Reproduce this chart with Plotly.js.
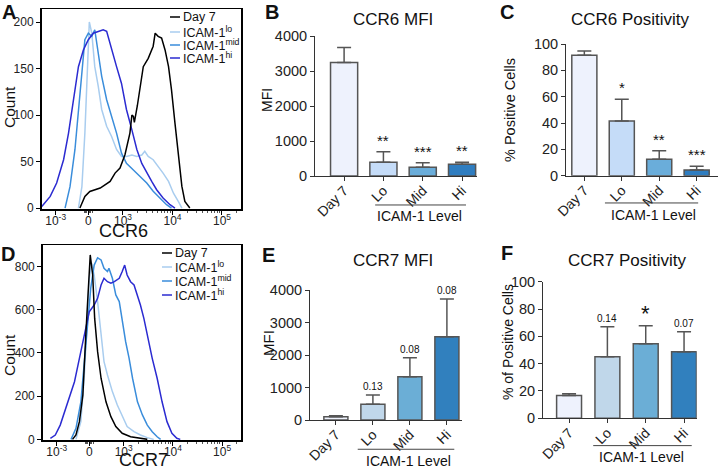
<!DOCTYPE html>
<html>
<head>
<meta charset="utf-8">
<script src="https://cdn.plot.ly/plotly-3.0.1.min.js"></script>
<style>
  html, body { margin: 0; padding: 0; background: #fff; }
  #plot { width: 720px; height: 469px; }
</style>
</head>
<body>
<div id="plot"></div>
<script>
// ---- data -------------------------------------------------------------
// histogram x values are in display decades (3 = 10^3, 4 = 10^4, ...)
const ccr6Day7X = [2.13, 2.23, 2.33, 2.54, 2.74, 2.84, 2.94, 3.04, 3.14, 3.18, 3.21, 3.23, 3.29, 3.34, 3.41, 3.51, 3.61, 3.65, 3.71, 3.78, 3.85, 3.92, 3.98, 4.05, 4.12, 4.19, 4.25, 4.35];
const ccr6Day7Y = [0, 12.5, 17.9, 21.5, 28.7, 37.6, 43, 57.3, 80.6, 100, 98.6, 92, 110, 127, 152, 161, 174, 188, 184.6, 182.8, 170, 152, 127, 91.4, 55.5, 23.3, 7.2, 0];
const ccr6LoX = [2.10, 2.17, 2.23, 2.28, 2.32, 2.37, 2.43, 2.50, 2.57, 2.67, 2.77, 2.87, 2.97, 3.07, 3.18, 3.28, 3.38, 3.44, 3.51, 3.61, 3.71, 3.81, 3.92, 4.02, 4.12, 4.19];
const ccr6LoY = [0, 23, 80.6, 152, 200, 188, 152, 131, 106, 88, 77, 63, 55.5, 55.5, 57, 55.5, 57, 61, 55.5, 52, 45, 37.6, 28.7, 16, 7, 0];
const ccr6MidX = [1.83, 1.93, 2.03, 2.10, 2.17, 2.23, 2.30, 2.37, 2.43, 2.50, 2.57, 2.67, 2.77, 2.87, 2.97, 3.07, 3.21, 3.34, 3.48, 3.61, 3.75, 3.88, 3.98];
const ccr6MidY = [0, 23, 63, 106, 152, 181, 188, 184.6, 191.7, 166.7, 141.6, 116.5, 98.6, 80.6, 59, 48, 41, 34, 27, 18, 10.8, 3.6, 0];
const ccr6HiX = [1.36, 1.53, 1.66, 1.80, 1.90, 2.00, 2.10, 2.20, 2.30, 2.40, 2.50, 2.60, 2.67, 2.77, 2.87, 2.97, 3.07, 3.18, 3.28, 3.38, 3.48, 3.58, 3.68, 3.81, 3.95, 4.05];
const ccr6HiY = [1.8, 12.5, 27, 52, 80.6, 116.5, 152, 170, 181, 188, 190, 191.7, 190, 170, 152, 134, 106, 84, 63, 48, 37.6, 28.7, 19.7, 10.8, 3.6, 0];

const ccr7Day7X = [1.96, 2.03, 2.10, 2.17, 2.23, 2.28, 2.32, 2.37, 2.41, 2.47, 2.54, 2.64, 2.74, 2.84, 2.97, 3.14, 3.34, 3.48];
const ccr7Day7Y = [0, 20, 82, 205, 483, 715, 854, 761, 560, 406, 283, 174, 105, 59, 28, 12, 5, 0];
const ccr7LoX = [2.03, 2.13, 2.20, 2.25, 2.30, 2.35, 2.40, 2.47, 2.54, 2.60, 2.67, 2.77, 2.87, 2.97, 3.07, 3.21, 3.34, 3.48, 3.61];
const ccr7LoY = [0, 82, 298, 560, 746, 815, 761, 638, 483, 360, 298, 221, 159, 105, 59, 35.5, 20, 8, 0];
const ccr7MidX = [1.93, 2.03, 2.13, 2.20, 2.27, 2.33, 2.40, 2.47, 2.54, 2.60, 2.67, 2.70, 2.77, 2.84, 2.91, 2.97, 3.04, 3.11, 3.18, 3.28, 3.38, 3.48, 3.58, 3.68, 3.75];
const ccr7MidY = [0, 51, 174, 360, 560, 699, 807, 841, 831, 792, 777, 792, 746, 669, 638, 545, 452, 375, 283, 174, 113, 66, 35.5, 12, 0];
const ccr7HiX = [1.51, 1.61, 1.71, 1.80, 1.90, 2.00, 2.10, 2.17, 2.23, 2.30, 2.40, 2.47, 2.54, 2.60, 2.67, 2.74, 2.81, 2.91, 2.97, 3.02, 3.07, 3.14, 3.21, 3.28, 3.34, 3.41, 3.48, 3.58, 3.68, 3.78, 3.88, 3.98, 4.08, 4.15];
const ccr7HiY = [5, 20, 66, 128, 190, 267, 375, 452, 530, 591, 622, 653, 715, 746, 730, 723, 730, 746, 777, 807, 761, 730, 715, 669, 622, 560, 483, 375, 283, 174, 82, 28, 5, 0];

const histTickVals = [1.64, 2.30, 3, 4, 5];
const histTickText = ['10<sup>-3</sup>', '0', '10<sup>3</sup>', '10<sup>4</sup>', '10<sup>5</sup>'];

const groups = ['Day 7', 'Lo', 'Mid', 'Hi'];
const ccr6Mfi = [3240, 390, 250, 335];
const ccr6MfiErr = [430, 300, 130, 55];
const ccr6MfiSig = ['', '**', '***', '**'];
const ccr6Pos = [91.4, 41.5, 12.4, 4.3];
const ccr6PosErr = [3.3, 16.5, 6.6, 2.8];
const ccr6PosSig = ['', '*', '**', '***'];
const ccr7Mfi = [103, 482, 1333, 2564];
const ccr7MfiErr = [30, 287, 585, 1159];
const ccr7MfiP = ['', '0.13', '0.08', '0.08'];
const ccr7Pos = [16.6, 45.1, 54.6, 48.8];
const ccr7PosErr = [1.4, 21.9, 13.2, 14.6];
const ccr7PosP = ['', '0.14', '*', '0.07'];

// ---- styling ----------------------------------------------------------
const W = 720, H = 469;
const fx = p => p / W;
const fy = p => (H - p) / H;
const FONT = 'Liberation Sans, Arial, sans-serif';
const colDay7 = '#000000', colLo = '#a9cdef', colMid = '#3a8ddb', colHi = '#2b2bd1';
const barColsTop = ['#eef2fd', '#c5dcf8', '#6aadda', '#2f7dc0'];
const barColsBottom = ['#eef2fd', '#c0d7ea', '#6baed6', '#3180be'];

function histLine(x, y, color, ax) {
  return { type: 'scatter', mode: 'lines', x: x, y: y, xaxis: 'x' + ax, yaxis: 'y' + ax,
    line: { color: color, width: 1.5 }, hoverinfo: 'skip' };
}

function bars(y, err, colors, width, ax) {
  return { type: 'bar', x: groups, y: y, width: width, xaxis: 'x' + ax, yaxis: 'y' + ax,
    marker: { color: colors, line: { color: '#555', width: 1.5 } },
    error_y: { type: 'data', symmetric: false, array: err, arrayminus: err.map(() => 0),
      color: '#555', thickness: 1.5, width: 7 } };
}

const data = [
  histLine(ccr6LoX, ccr6LoY, colLo, ''),
  histLine(ccr6MidX, ccr6MidY, colMid, ''),
  histLine(ccr6HiX, ccr6HiY, colHi, ''),
  histLine(ccr6Day7X, ccr6Day7Y, colDay7, ''),
  histLine(ccr7LoX, ccr7LoY, colLo, '4'),
  histLine(ccr7MidX, ccr7MidY, colMid, '4'),
  histLine(ccr7HiX, ccr7HiY, colHi, '4'),
  histLine(ccr7Day7X, ccr7Day7Y, colDay7, '4'),
  bars(ccr6Mfi, ccr6MfiErr, barColsTop, 0.69, '2'),
  bars(ccr6Pos, ccr6PosErr, barColsTop, 0.67, '3'),
  bars(ccr7Mfi, ccr7MfiErr, barColsBottom, 0.65, '5'),
  bars(ccr7Pos, ccr7PosErr, barColsBottom, 0.65, '6')
];

// log-style minor ticks on the histogram x axes
const minorTicks = [];
for (let d = 3; d < 5.4; d++) {
  for (let k = 2; k <= 9; k++) minorTicks.push(d + Math.log10(k));
}
minorTicks.push(2.22, 2.25, 2.27, 2.33, 2.35, 2.38);

function histXAxis(domain, anchor) {
  return { domain: domain, anchor: anchor, range: [1.354, 5.384], showline: true, mirror: true,
    linecolor: '#000', linewidth: 1.5, ticks: 'outside', ticklen: 4, tickcolor: '#000',
    tickmode: 'array', tickvals: histTickVals, ticktext: histTickText, ticklabelstandoff: -4,
    tickfont: { size: 12, color: '#222' }, showgrid: false, zeroline: false,
    minor: { tickmode: 'array', tickvals: minorTicks, ticks: 'outside', ticklen: 2, tickcolor: '#555' } };
}
function histYAxis(domain, anchor, range, dtick) {
  return { domain: domain, anchor: anchor, range: range, showline: true, mirror: true,
    linecolor: '#000', linewidth: 1.5, ticks: 'outside', ticklen: 4, tickcolor: '#000',
    dtick: dtick, tick0: 0, tickfont: { size: 12, color: '#222' }, showgrid: false, zeroline: false };
}
function barXAxis(domain, anchor, range) {
  return { domain: domain, anchor: anchor, range: range, type: 'category', showline: true, linecolor: '#333',
    linewidth: 1, ticks: 'outside', ticklen: 4, tickcolor: '#333', tickangle: -45,
    ticklabelstandoff: -4,
    tickfont: { size: 14, color: '#222' }, showgrid: false, zeroline: false };
}
function barYAxis(domain, anchor, range, dtick) {
  return { domain: domain, anchor: anchor, range: range, showline: true, linecolor: '#333', linewidth: 1,
    ticks: 'outside', ticklen: 4, tickcolor: '#333', dtick: dtick, tick0: 0,
    tickfont: { size: 14.5, color: '#222' }, showgrid: false, zeroline: false };
}

const layout = {
  width: W, height: H, margin: { l: 0, r: 0, t: 0, b: 0 },
  paper_bgcolor: '#fff', plot_bgcolor: '#fff', showlegend: false,
  font: { family: FONT, color: '#111' },
  xaxis: histXAxis([fx(41.5), fx(241)], 'y'),
  yaxis: histYAxis([fy(209), fy(9)], 'x', [-1, 214], 50),
  xaxis4: histXAxis([fx(42.7), fx(241)], 'y4'),
  yaxis4: histYAxis([fy(440), fy(245)], 'x4', [-3, 900], 200),
  xaxis2: barXAxis([fx(315), fx(477)], 'y2', [-0.74, 3.38]),
  yaxis2: barYAxis([fy(176), fy(36)], 'x2', [0, 4000], 1000),
  xaxis3: barXAxis([fx(566), fx(718)], 'y3', [-0.49, 3.57]),
  yaxis3: barYAxis([fy(175.7), fy(44)], 'x3', [0, 100], 20),
  xaxis5: barXAxis([fx(310), fx(461.7)], 'y5', [-0.70, 3.40]),
  yaxis5: barYAxis([fy(420), fy(290)], 'x5', [0, 4000], 1000),
  xaxis6: barXAxis([fx(543), fx(696.7)], 'y6', [-0.68, 3.33]),
  yaxis6: barYAxis([fy(418.3), fy(281.7)], 'x6', [0, 100], 20),
  shapes: [],
  annotations: []
};

function note(text, x, y, size, extra) {
  layout.annotations.push(Object.assign({ text: text, x: fx(x), y: fy(y), xref: 'paper', yref: 'paper',
    xanchor: 'center', yanchor: 'middle', showarrow: false, font: { size: size, color: '#111' } }, extra || {}));
}

// panel letters
note('<b>A</b>', 9, 12, 20);
note('<b>B</b>', 272, 12, 20);
note('<b>C</b>', 507, 12, 20);
note('<b>D</b>', 8, 254, 20);
note('<b>E</b>', 268, 255, 20);
note('<b>F</b>', 507, 253, 20);

// titles
note('CCR6 MFI', 393, 19, 17);
note('CCR6 Positivity', 630, 19, 17);
note('CCR7 MFI', 393, 260, 17);
note('CCR7 Positivity', 627, 260, 17);

// axis titles
note('Count', 10, 107, 15.5, { textangle: -90 });
note('CCR6', 123, 231, 18);
note('Count', 9, 355, 15.5, { textangle: -90 });
note('CCR7', 143, 460, 18);
note('MFI', 267, 100, 14, { textangle: -90 });
note('% Positive Cells', 510, 110, 14.5, { textangle: -90 });
note('MFI', 268, 343, 15, { textangle: -90 });
note('% of Positive Cells', 508, 342, 14, { textangle: -90 });

// histogram legends
function histLegend(lineX0, lineX1, textX, rows) {
  const labels = ['Day 7', 'ICAM-1<sup>lo</sup>', 'ICAM-1<sup>mid</sup>', 'ICAM-1<sup>hi</sup>'];
  const cols = [colDay7, colLo, colMid, colHi];
  labels.forEach((lab, i) => {
    layout.shapes.push({ type: 'line', xref: 'paper', yref: 'paper', x0: fx(lineX0), x1: fx(lineX1),
      y0: fy(rows[i]), y1: fy(rows[i]), line: { color: cols[i], width: 1.5 } });
    note(lab, textX, rows[i], 12.5, { xanchor: 'left', yanchor: 'middle' });
  });
}
histLegend(170, 180, 181, [17, 32, 45, 58]);
histLegend(162, 172, 173, [253, 267, 281, 295]);

// significance / p-value labels above error bars
function sigLabels(ax, vals, errs, labels, size) {
  labels.forEach((t, i) => {
    if (!t) return;
    const big = t === '*' && size < 12;
    layout.annotations.push({ text: t, x: groups[i], y: vals[i] + errs[i], xref: 'x' + ax, yref: 'y' + ax,
      xanchor: 'center', yanchor: 'bottom', yshift: big ? -2 : 1, showarrow: false,
      font: { size: big ? 22 : size, color: '#111' } });
  });
}
sigLabels('2', ccr6Mfi, ccr6MfiErr, ccr6MfiSig, 15);
sigLabels('3', ccr6Pos, ccr6PosErr, ccr6PosSig, 15);
sigLabels('5', ccr7Mfi, ccr7MfiErr, ccr7MfiP, 10);
sigLabels('6', ccr7Pos, ccr7PosErr, ccr7PosP, 10);

// "ICAM-1 Level" brackets
function levelBracket(ax, x0, x1, yLine, xText, yText) {
  layout.shapes.push({ type: 'line', xref: 'x' + ax, yref: 'y' + ax + ' domain',
    x0: x0, x1: x1, y0: yLine, y1: yLine, line: { color: '#444', width: 1 } });
  layout.annotations.push({ text: 'ICAM-1 Level', x: xText, y: yText, xref: 'x' + ax,
    yref: 'y' + ax + ' domain', xanchor: 'center', yanchor: 'middle', showarrow: false,
    font: { size: 14, color: '#111' } });
}
levelBracket('2', 0.79, 3.10, -0.207, 1.93, -0.286);
levelBracket('3', 0.55, 3.04, -0.207, 1.84, -0.298);
levelBracket('5', 0.59, 3.20, -0.225, 1.95, -0.315);
levelBracket('6', 0.63, 3.20, -0.200, 1.90, -0.283);

Plotly.newPlot('plot', data, layout, { staticPlot: true, displayModeBar: false });
</script>
</body>
</html>
